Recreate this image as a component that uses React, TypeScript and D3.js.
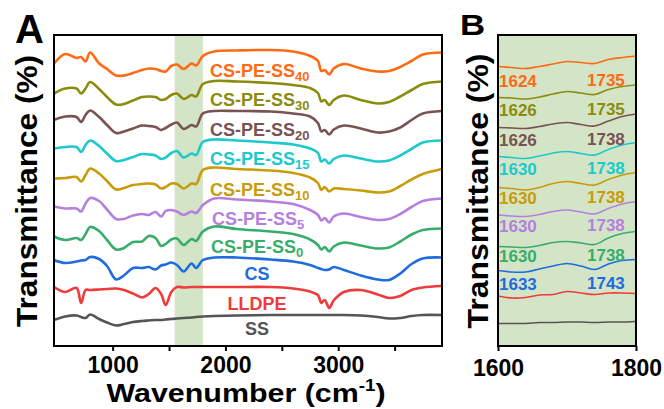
import React, { useRef, useEffect } from 'react';
import * as d3 from 'd3';

// Panel A: wavenumber grid (cm-1) shared by all spectra
const wavenumbers = [480, 580, 680, 720, 760, 800, 880, 950, 1030, 1100, 1180, 1260, 1320, 1380, 1430, 1470, 1520, 1570, 1630, 1700, 1740, 1800, 1900, 2100, 2400, 2600, 2750, 2820, 2850, 2880, 2920, 2960, 3050, 3200, 3350, 3450, 3550, 3650, 3750, 3920];

// offset transmittance (a.u.)
const ss40 = [282.5, 292, 288, 289, 284.5, 293.5, 282.5, 277, 270.5, 270.5, 273, 276, 277.5, 277, 275, 274.5, 280, 281.5, 277, 282.5, 280.5, 290, 294.5, 295.5, 296, 294.5, 290, 285, 275, 276, 271.5, 277.5, 282, 277.5, 274.5, 275, 279, 285, 291.5, 293.5];
const ss30 = [252.5, 257.5, 257.5, 252.5, 257.5, 264, 257, 249, 241.5, 242, 245.5, 249, 249.5, 249, 246, 247, 251, 252.5, 247, 251, 249.5, 262, 265, 264.5, 263, 261, 258, 253, 244.5, 246, 241, 246, 250.5, 246, 242.5, 244, 249.5, 256, 262, 264.5];
const ss20 = [226, 229.5, 229, 224, 231, 235.5, 229, 221, 213, 214.5, 217.5, 220.5, 220, 219, 216, 218, 221.5, 223.5, 217, 221, 219.5, 232.5, 235, 235, 234.5, 232.5, 229.5, 223, 214.5, 216, 211.5, 216.5, 220.5, 217.5, 213.5, 214.5, 218.5, 226, 232.5, 235];
const ss15 = [197.5, 199, 199, 194, 201, 205.5, 200, 192.5, 185, 186, 189, 192, 191.5, 190.5, 187, 188.5, 193, 195, 188.5, 192.5, 191, 204, 206.5, 205.5, 203.5, 201.5, 197.5, 193, 184.5, 186.5, 182.5, 187, 190.5, 187.5, 184.5, 185.5, 190.5, 197, 203.5, 205.5];
const ss10 = [167.5, 168, 169, 164.5, 171, 177.5, 172.5, 165, 156.5, 158, 161, 162, 162.5, 161.5, 157.5, 159, 162.5, 162, 157.5, 162.5, 162, 176, 178.5, 177, 175.5, 173, 168.5, 163, 156, 159, 154.5, 157.5, 157, 155.5, 153.5, 154.5, 160, 166.5, 172, 177];
const ss5 = [139.5, 137.5, 137.5, 134.5, 142.5, 148, 145, 136.5, 127, 127, 130.5, 132, 131, 134, 129.5, 135, 136, 134.5, 131, 134.5, 133, 141, 147.5, 146.5, 144.5, 142, 136, 131, 125.5, 128, 123.5, 129.5, 132.5, 129, 126, 127, 132, 139, 145, 147.5];
const ss0 = [109.5, 106, 108, 106, 112, 119, 115, 106, 96.5, 98, 104, 104.5, 110, 108, 100, 102, 106.5, 107.5, 101, 107, 105, 114.5, 119.5, 117, 114.5, 112, 106.5, 101, 96.5, 99, 94.5, 99.5, 103.5, 100.5, 97.5, 98.5, 104.5, 111.5, 116, 117.5];
const cs = [86, 83, 84.5, 85.5, 86, 89, 87, 80, 66.5, 70.5, 78, 78, 79, 76.5, 80.5, 81.5, 83.5, 81, 74.5, 82.5, 78, 86, 88.5, 88.5, 86.5, 84.5, 81, 78, 77, 76, 76.5, 79, 76, 70.5, 66.5, 66, 72.5, 82, 87.5, 88.5];
const lldpe = [59, 54, 58, 43, 56, 56, 56.5, 57, 57.5, 56, 52.5, 48.5, 52, 58, 52, 41, 54, 59, 58.5, 59, 59, 59, 59, 59, 59, 57.5, 54.5, 51, 43, 46, 38, 45.5, 54, 56, 51.5, 48, 50, 56, 58.5, 60];
const ssOnly = [26, 29.5, 30.5, 29, 28, 31.5, 27, 23.5, 20.5, 22, 24, 25, 25.5, 26, 26, 26.5, 27, 27.5, 28, 28.5, 29, 29.5, 30, 30.5, 31, 31, 31, 31, 31, 31, 31, 31, 31, 30.5, 29, 27.5, 28, 30, 31, 31];

// Panel B: zoom on 1600-1800 cm-1
const zoomWavenumbers = [1600, 1620, 1640, 1660, 1680, 1700, 1720, 1740, 1760, 1780, 1800];
const zoomSs40 = [279.5, 278.5, 277.5, 279.5, 282, 284.5, 283.5, 282.5, 286.5, 288.5, 290];
const zoomSs30 = [248.5, 248, 247, 249, 252, 254.5, 253, 251.5, 256.5, 259.5, 261];
const zoomSs20 = [218.5, 218, 217.5, 219.5, 222, 223.5, 221.5, 220, 225, 229.5, 232];
const zoomSs15 = [189.5, 188.5, 187.5, 190, 193, 194.5, 192.5, 191, 196.5, 201, 203.5];
const zoomSs10 = [158.5, 157.5, 156, 158.5, 162.5, 164.5, 162.5, 161, 166.5, 171, 173.5];
const zoomSs5 = [131, 130, 129.5, 131.5, 134.5, 136, 134, 132, 137.5, 142, 144.5];
const zoomSs0 = [99.5, 99, 98.5, 100.5, 103.5, 104.5, 103, 101.5, 108, 112.5, 114.5];
const zoomCs = [75.5, 74, 74, 77, 80, 82.5, 80, 76.5, 82, 85.5, 86.5];
const zoomLldpe = [50, 48, 48.5, 51, 51.5, 54.5, 53, 51.5, 53, 53, 52.5];
const zoomSsOnly = [22.5, 22.5, 22.5, 23.5, 23.5, 24, 24, 23.5, 24, 24, 24.5];

const peakLow = ['1624', '1626', '1626', '1630', '1630', '1630', '1630', '1633'];
const peakHigh = ['1735', '1735', '1738', '1738', '1738', '1738', '1738', '1743'];

const xTicksA = [1000, 1500, 2000, 2500, 3000, 3500];
const xTicksB = [1600, 1800];

const colors = ['#ff6a13', '#8c8c0c', '#7a5252', '#1cc9cc', '#c99b08', '#b57fe0', '#38ad6b', '#1f6be0', '#ef3b3b', '#555555'];

const seriesA = [ss40, ss30, ss20, ss15, ss10, ss5, ss0, cs, lldpe, ssOnly];
const seriesB = [zoomSs40, zoomSs30, zoomSs20, zoomSs15, zoomSs10, zoomSs5, zoomSs0, zoomCs, zoomLldpe, zoomSsOnly];

const labels = [
  { text: 'CS-PE-SS', sub: '40', x: 210, y: 77 },
  { text: 'CS-PE-SS', sub: '30', x: 210, y: 106 },
  { text: 'CS-PE-SS', sub: '20', x: 210, y: 136 },
  { text: 'CS-PE-SS', sub: '15', x: 210, y: 165 },
  { text: 'CS-PE-SS', sub: '10', x: 210, y: 196 },
  { text: 'CS-PE-SS', sub: '5', x: 212, y: 225 },
  { text: 'CS-PE-SS', sub: '0', x: 211, y: 253 },
  { text: 'CS', sub: '', x: 257, y: 280, mid: true },
  { text: 'LLDPE', sub: '', x: 257, y: 310, mid: true },
  { text: 'SS', sub: '', x: 257, y: 335, mid: true },
];
const peakY = [87, 116, 146, 175, 204, 232, 262, 290];

const font = "Arial, 'Liberation Sans', Helvetica, sans-serif";
const band = '#d4e5c7';

const App = () => {
  const axisARef = useRef<SVGGElement>(null);
  const axisBRef = useRef<SVGGElement>(null);

  const xA = d3.scaleLinear().domain([480, 3920]).range([54, 442]);
  const y = d3.scaleLinear().domain([0, 311]).range([346, 35]);
  const xB = d3.scaleLinear().domain([1600, 1800]).range([498, 636]);

  const lineA = d3
    .line<number>()
    .x((d, i) => xA(wavenumbers[i]))
    .y(d => y(d))
    .curve(d3.curveCatmullRom.alpha(0.5));
  const lineB = d3
    .line<number>()
    .x((d, i) => xB(zoomWavenumbers[i]))
    .y(d => y(d))
    .curve(d3.curveCatmullRom.alpha(0.5));

  useEffect(() => {
    const style = (g: any) => {
      g.select('.domain').remove();
      g.selectAll('line').attr('stroke', '#000').attr('stroke-width', 2);
      g.selectAll('text')
        .attr('fill', '#000')
        .style('font-family', font)
        .style('font-weight', 'bold')
        .style('font-size', '23px');
    };
    const axA = d3
      .axisBottom(xA)
      .tickValues(xTicksA)
      .tickSize(5)
      .tickPadding(6)
      .tickFormat(d => ((d as number) % 1000 === 0 ? String(d) : ''));
    d3.select(axisARef.current).call(axA as any).call(style);
    const axB = d3.axisBottom(xB).tickValues(xTicksB).tickSize(5).tickPadding(9).tickFormat(d => String(d));
    d3.select(axisBRef.current).call(axB as any).call(style);
  }, []);

  const [ax0, ax1] = xA.range();
  const [bx0, bx1] = xB.range();
  const [yb, yt] = y.range();

  return (
    <div style={{ position: 'absolute', left: 0, top: 0 }}>
      <svg width={664} height={409} style={{ display: 'block', background: '#fff' }} fontFamily={font}>
        <defs>
          <clipPath id="clipA">
            <rect x={ax0} y={yt} width={ax1 - ax0} height={yb - yt} />
          </clipPath>
          <clipPath id="clipB">
            <rect x={bx0} y={yt} width={bx1 - bx0} height={yb - yt} />
          </clipPath>
        </defs>

        {/* panel A */}
        <rect x={xA(1550)} y={yt} width={xA(1800) - xA(1550)} height={yb - yt} fill={band} />
        <g clipPath="url(#clipA)">
          {seriesA.map((s, i) => (
            <path key={i} d={lineA(s) || ''} fill="none" stroke={colors[i]} strokeWidth={2.6} strokeLinejoin="round" />
          ))}
        </g>
        {labels.map((l, i) => (
          <text key={i} x={l.x} y={l.y} fill={colors[i]} fontWeight="bold" fontSize={18} textAnchor={l.mid ? 'middle' : 'start'}>
            {l.text}
            {l.sub && (
              <tspan fontSize={13} dy={4}>
                {l.sub}
              </tspan>
            )}
          </text>
        ))}
        <rect x={ax0} y={yt} width={ax1 - ax0} height={yb - yt} fill="none" stroke="#000" strokeWidth={2} />
        <g ref={axisARef} transform={`translate(0,${yb})`} />

        <text x={15} y={43} fontSize={40} fontWeight="bold">A</text>
        <text
          transform={`translate(37,191) rotate(-90)`}
          textAnchor="middle"
          fontSize={30}
          fontWeight="bold"
          textLength={272}
          lengthAdjust="spacingAndGlyphs"
        >
          Transmittance (%)
        </text>
        <text transform={`translate(246,402) scale(1.17,1)`} textAnchor="middle" fontSize={26} fontWeight="bold">
          Wavenumber (cm
          <tspan fontSize={16} dy={-11}>-1</tspan>
          <tspan dy={11}>)</tspan>
        </text>

        {/* panel B */}
        <rect x={bx0} y={yt} width={bx1 - bx0} height={yb - yt} fill={band} />
        <g clipPath="url(#clipB)">
          {seriesB.map((s, i) => (
            <path key={i} d={lineB(s) || ''} fill="none" stroke={colors[i]} strokeWidth={1.6} />
          ))}
        </g>
        {peakY.map((py, i) => (
          <g key={i} fill={colors[i]} fontWeight="bold" fontSize={17}>
            <text x={bx0 + 1} y={py}>{peakLow[i]}</text>
            <text x={587} y={py - 1.5}>{peakHigh[i]}</text>
          </g>
        ))}
        <rect x={bx0} y={yt} width={bx1 - bx0} height={yb - yt} fill="none" stroke="#000" strokeWidth={2} />
        <g ref={axisBRef} transform={`translate(0,${yb})`} />

        <text transform="translate(460,35) scale(1.2,1)" fontSize={29} fontWeight="bold">B</text>
        <text
          transform={`translate(488,191) rotate(-90)`}
          textAnchor="middle"
          fontSize={30}
          fontWeight="bold"
          textLength={275}
          lengthAdjust="spacingAndGlyphs"
        >
          Transmittance (%)
        </text>
      </svg>
    </div>
  );
};

export default App;
